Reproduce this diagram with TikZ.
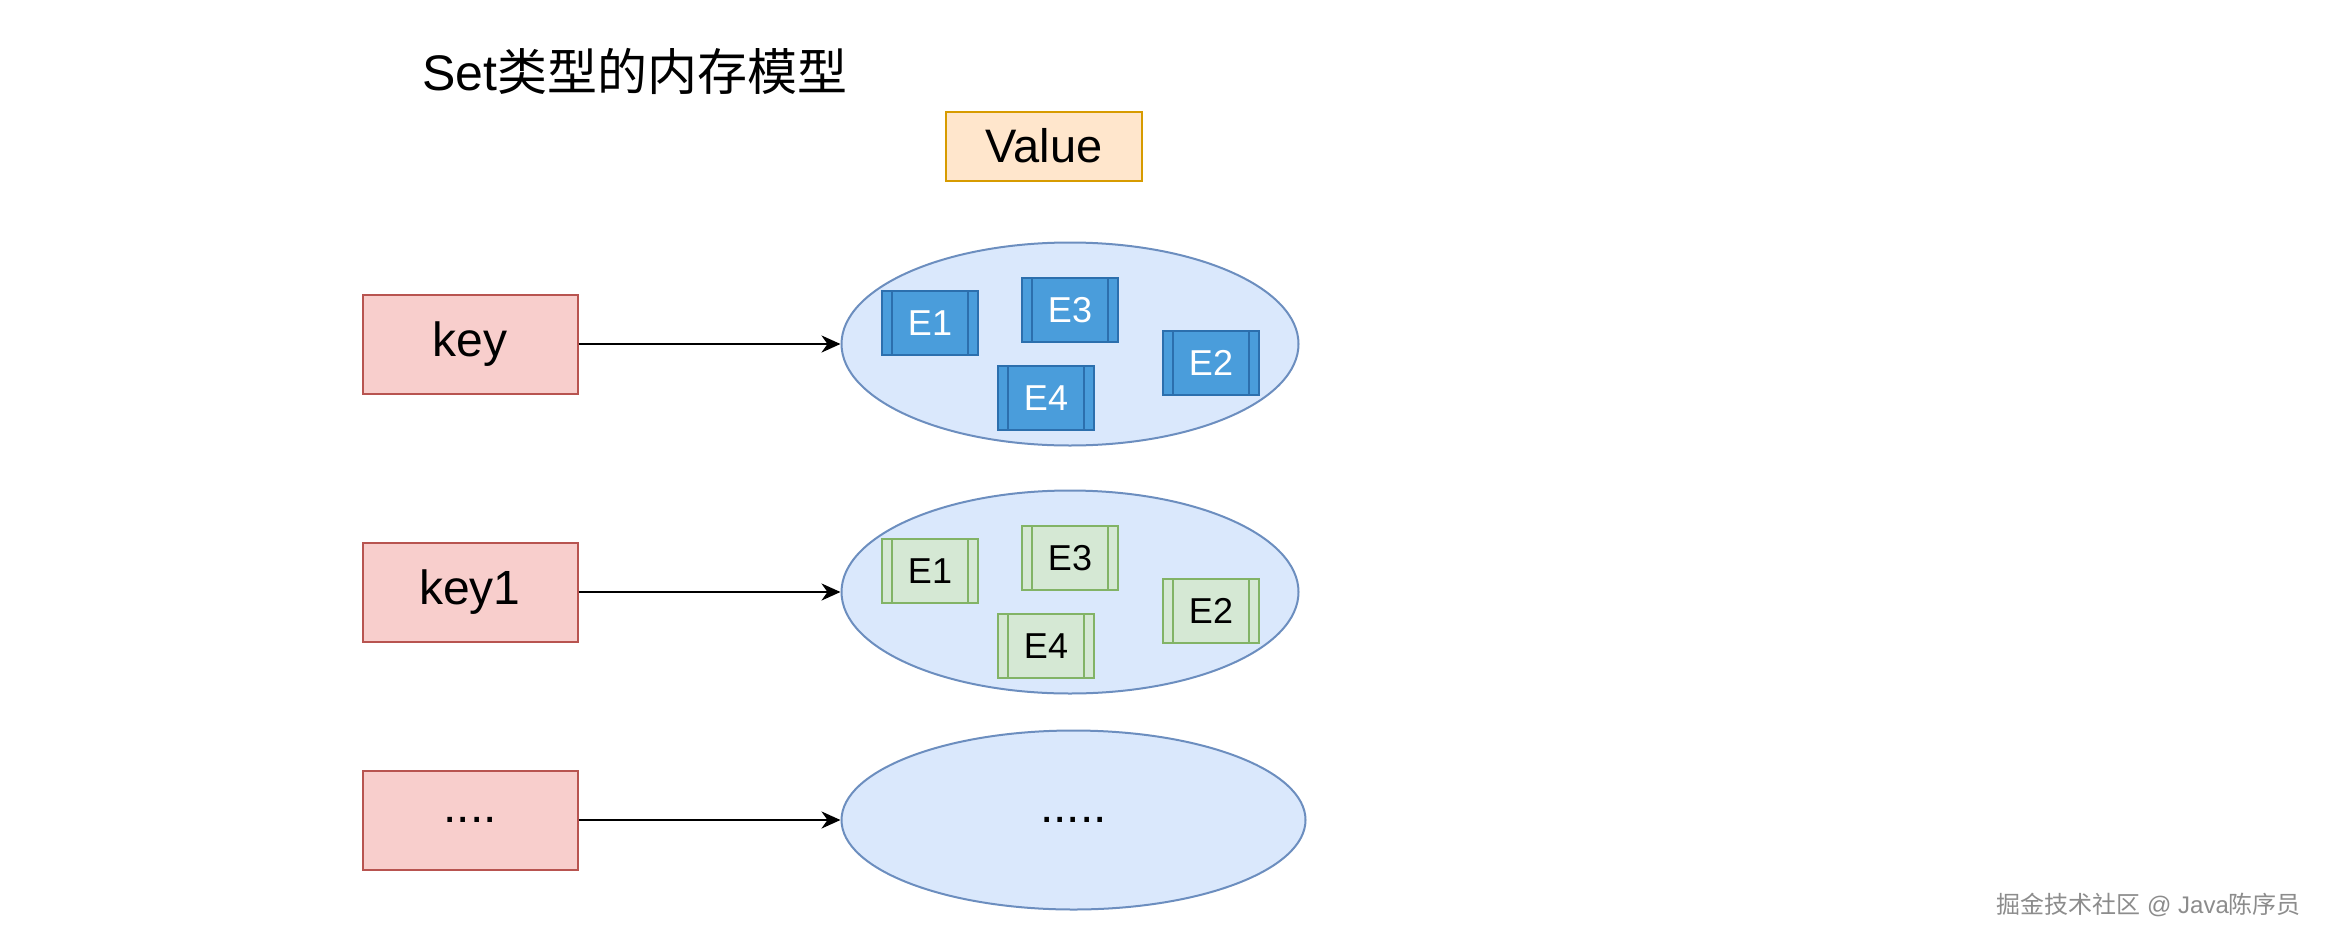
\documentclass[tikz,border=0pt]{standalone}
\usepackage{fontspec}
\setmainfont{Liberation Sans}
\newfontfamily\cjk{Noto Sans CJK SC}
\usetikzlibrary{arrows.meta,positioning,shapes.geometric}
\definecolor{keyfill}{HTML}{F8CECC}
\definecolor{keyline}{HTML}{B85450}
\definecolor{valfill}{HTML}{FFE6CC}
\definecolor{valline}{HTML}{D79B00}
\definecolor{setfill}{HTML}{DAE8FC}
\definecolor{setline}{HTML}{6C8EBF}
\definecolor{eblue}{HTML}{4A9DDB}
\definecolor{ebluedark}{HTML}{2C6FAD}
\definecolor{egreen}{HTML}{D5E8D4}
\definecolor{egreendark}{HTML}{82B366}
\tikzstyle{keybox}=[
	rectangle,
	line width=2pt,
	draw=keyline,
	fill=keyfill,
	minimum width=215pt,
	minimum height=99pt,
	font=\fontsize{48}{58}\selectfont
]
\tikzstyle{valuebox}=[
	rectangle,
	line width=2pt,
	draw=valline,
	fill=valfill,
	minimum width=196pt,
	minimum height=69pt,
	font=\fontsize{47}{56}\selectfont
]
\tikzstyle{setcloud}=[
	ellipse,
	line width=2pt,
	draw=setline,
	fill=setfill,
	inner sep=0pt,
	minimum width=457pt,
	minimum height=203pt,
	font=\fontsize{48}{58}\selectfont
]
\tikzstyle{link}=[
	-{Stealth[length=19pt,width=17pt,inset=6pt]},
	line width=2.5pt
]
\tikzset{member/.style n args={3}{
	rectangle,
	line width=1.5pt,
	fill=#1,
	draw=#2,
	text=#3,
	inner sep=0pt,
	minimum width=96pt,
	minimum height=64pt,
	font=\fontsize{36}{43}\selectfont,
	path picture={\draw[#2, line width=1.5pt]
		([xshift=10pt]path picture bounding box.north west) -- ([xshift=10pt]path picture bounding box.south west)
		([xshift=-10pt]path picture bounding box.north east) -- ([xshift=-10pt]path picture bounding box.south east);}
}}

\begin{document}
\begin{tikzpicture}[x=1pt,y=-1pt]
\fill[white] (0,0) rectangle (2332,948);
\useasboundingbox (0,0) rectangle (2332,948);

\node [anchor=west, font=\fontsize{50}{60}\selectfont] (title) at (419,71) {Set{\cjk 类型的内存模型}};
\node [valuebox] (value) at (1044,146) {Value};

\node [keybox] (key) at (470,344) {key};
\node [keybox] (key1)[below=147pt of key] {key1};
\node [keybox] (more)[below=127pt of key1] {....};

\node [setcloud] (set1)[right=262pt of key] {};
\node [setcloud] (set2)[right=262pt of key1] {};
\node [setcloud, minimum width=464pt, minimum height=179pt] (set3)[right=262pt of more] {.....};

\foreach \s/\f/\d/\t in {set1/eblue/ebluedark/white, set2/egreen/egreendark/black} {
	\node [member={\f}{\d}{\t}] (\s-e1) at ([shift={(-140,-21)}]\s.center) {E1};
	\node [member={\f}{\d}{\t}] (\s-e3) at ([shift={(0,-34)}]\s.center) {E3};
	\node [member={\f}{\d}{\t}] (\s-e2) at ([shift={(141,19)}]\s.center) {E2};
	\node [member={\f}{\d}{\t}] (\s-e4) at ([shift={(-24,54)}]\s.center) {E4};
}

\foreach \k/\s in {key/set1, key1/set2, more/set3}
	\draw [link] (\k) -- (\s);

\node [anchor=west, text=black!45, font=\fontsize{24}{29}\selectfont] (mark) at (1993,905) {{\cjk 掘金技术社区} @ Java{\cjk 陈序员}};
\end{tikzpicture}
\end{document}
